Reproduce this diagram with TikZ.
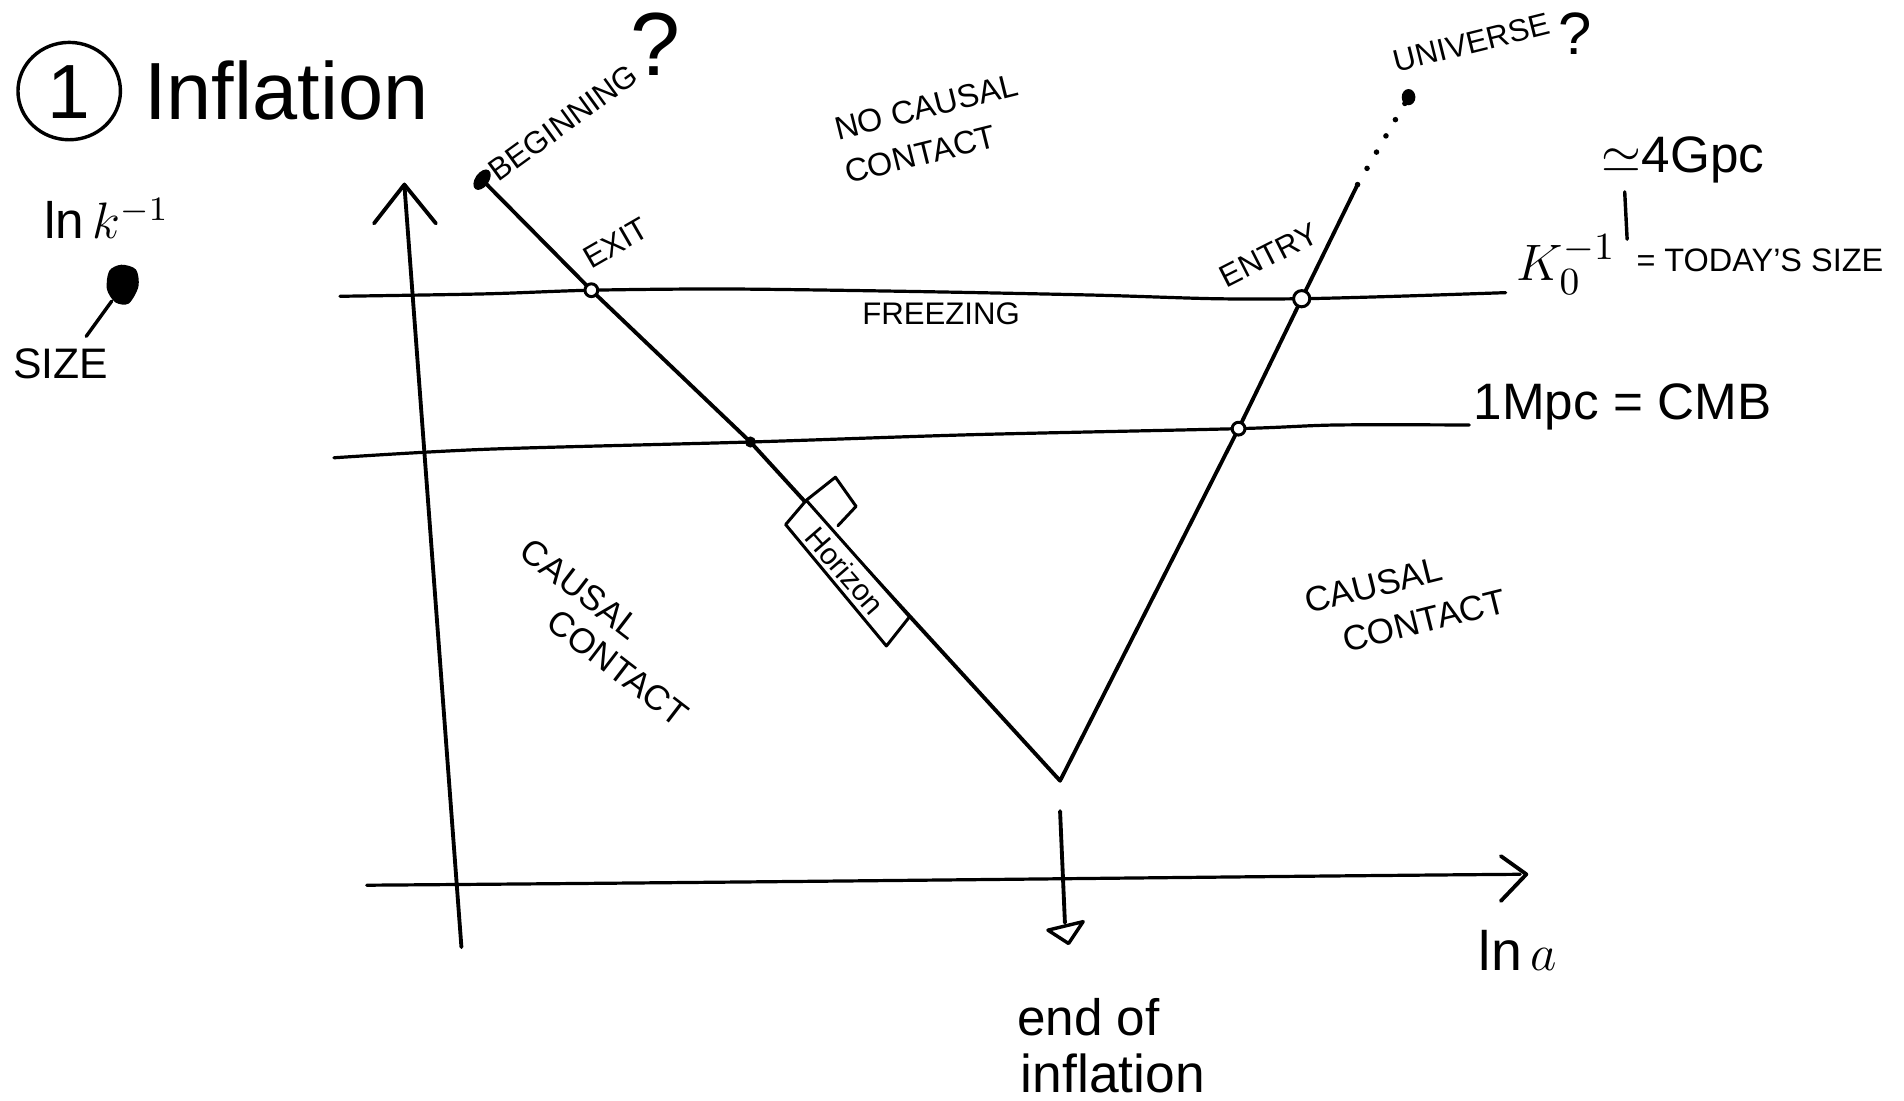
\documentclass[tikz,border=0pt]{standalone}
\usepackage{fontspec}
\setmainfont{Liberation Sans}
\usetikzlibrary{shapes.geometric}
\begin{document}
\begin{tikzpicture}[x=0.01cm,y=-0.01cm,line cap=round,line join=round,
  pen/.style={line width=0.9pt},
  hline/.style={line width=0.75pt},
  lbl/.style={inner sep=0pt,font=\fontsize{7.3}{9}\selectfont},
  midlbl/.style={inner sep=0pt,font=\fontsize{8.2}{10}\selectfont},
  biglbl/.style={inner sep=0pt,font=\fontsize{12}{14}\selectfont},
  opendot/.style={circle,draw,line width=0.7pt,fill=white,inner sep=0pt,minimum size=3pt},
  fulldot/.style={circle,fill,inner sep=0pt,minimum size=2.6pt}]
\useasboundingbox (0,0) rectangle (1568,906);

% coordinates
\coordinate (B0) at (397,148);
\coordinate (Ex) at (487,239);
\coordinate (L2) at (618,364);
\coordinate (V)  at (873,643);
\coordinate (R2) at (1020,353);
\coordinate (En) at (1072,246);
\coordinate (Rt) at (1118,152);
\coordinate (U)  at (1160,80);
\coordinate (Y0) at (380,780);
\coordinate (Y1) at (333,152);
\coordinate (YL) at (308,184);
\coordinate (YR) at (359,184);
\coordinate (X0) at (302,729);
\coordinate (X1) at (1252,720);
\coordinate (XU) at (1236,705);
\coordinate (XD) at (1236,742);
\coordinate (D0) at (873,668);
\coordinate (D1) at (877,760);

% title
\draw[line width=0.8pt] (57,75) ellipse [x radius=12pt, y radius=11.4pt];
\node[inner sep=0pt,font=\fontsize{18}{20}\selectfont] (one) at (57,76) {1};
\node[inner sep=0pt,anchor=base west,font=\fontsize{19}{22}\selectfont] (title) at (118,98) {Inflation};

% y label and size blob
\node[inner sep=0pt,font=\fontsize{12}{14}\selectfont] (ylab) at (88,180) {$\ln k^{-1}$};
\fill plot[smooth cycle] coordinates {(90,223) (100,218) (112,222) (114,236) (106,250) (95,249) (88,238)};
\coordinate (blobend) at (92,248);
\coordinate (sizeend) at (71,277);
\draw[line width=0.8pt] (blobend) -- (sizeend);
\node[inner sep=0pt,font=\fontsize{10}{12}\selectfont] (size) at (50,300) {SIZE};

% axes
\draw[pen] (Y0) -- (Y1);
\draw[pen] (YL) -- (Y1) -- (YR);
\draw[hline] (X0) .. controls (700,726) and (1000,722) .. (X1);
\draw[pen] (XU) -- (1257,720) -- (XD);
\node[inner sep=0pt,font=\fontsize{13}{15}\selectfont] (lna) at (1250,783) {$\ln a$};

% horizontal lines
\draw[hline] plot[smooth] coordinates {(280,244) (400,242) (487,239) (600,238) (750,240) (900,243) (1000,246) (1072,246) (1150,244) (1240,241)};
\draw[hline] plot[smooth] coordinates {(275,377) (400,370) (618,364) (800,358) (1020,353) (1100,350) (1210,350)};

% horizon curve
\draw[pen] (B0) -- (Ex) -- (L2) -- (V) -- (R2) -- (En) -- (Rt);
\draw[line width=1.3pt,dash pattern=on 0pt off 4.4pt] (Rt) -- (U);
\node[fill,ellipse,inner sep=0pt,minimum width=3.2pt,minimum height=5.4pt,rotate=-35] (bdot) at (B0) {};
\node[fill,ellipse,inner sep=0pt,minimum width=3.2pt,minimum height=3.8pt] (udot) at (U) {};

\node[opendot] (exdot) at (Ex) {};
\node[fulldot] (l2dot) at (L2) {};
\node[opendot] (r2dot) at (R2) {};
\node[opendot,minimum size=3.8pt] (endot) at (En) {};

% horizon box
\draw[line width=0.7pt,fill=white] (647,432) -- (730,532) -- (749,508) -- (664,412) -- cycle;
\draw[line width=0.7pt] (664,412) -- (688,393) -- (705,417) -- (690,433);
\node[inner sep=0pt,rotate=-49,font=\fontsize{7}{8}\selectfont] (hor) at (696,470) {Horizon};

% labels
\node[lbl,rotate=36] (beg) at (464,101) {BEGINNING};
\node[inner sep=0pt,font=\fontsize{21}{24}\selectfont] (q1) at (540,36) {?};
\node[lbl,rotate=14] (univ) at (1212,35) {UNIVERSE};
\node[inner sep=0pt,font=\fontsize{14}{16}\selectfont] (q2) at (1297,28) {?};
\node[lbl,rotate=30] (exit) at (507,200) {EXIT};
\node[lbl,rotate=27] (entry) at (1045,210) {ENTRY};
\node[lbl] (freez) at (775,258) {FREEZING};
\node[lbl,font=\fontsize{7.6}{9}\selectfont,rotate=14] (nc1) at (763,88) {NO CAUSAL};
\node[lbl,font=\fontsize{7.6}{9}\selectfont,rotate=14] (nc2) at (758,127) {CONTACT};
\node[midlbl,rotate=-37.5] (cl1) at (478,485) {CAUSAL};
\node[midlbl,rotate=-37.5] (cl2) at (509,550) {CONTACT};
\node[midlbl,rotate=14] (cr1) at (1131,482) {CAUSAL};
\node[midlbl,rotate=14] (cr2) at (1173,511) {CONTACT};

% right side annotations
\node[inner sep=0pt,font=\fontsize{13}{15}\selectfont] (k0) at (1290,218) {$K_0^{-1}$};
\node[inner sep=0pt,anchor=west,font=\fontsize{7.6}{9}\selectfont] (today) at (1347,214) {= TODAY'S SIZE};
\node[biglbl] (gpc) at (1386,132) {$\simeq$4Gpc};
\coordinate (barTop) at (1338,158);
\coordinate (barBot) at (1340,197);
\draw[line width=0.8pt] (barTop) -- (barBot);
\node[biglbl,anchor=west] (mpc) at (1213,335) {1Mpc = CMB};

% end of inflation
\draw[pen] (D0) -- (D1);
\draw[line width=0.8pt] (863,766) -- (892,759) -- (880,777) -- cycle;
\node[inner sep=0pt,anchor=west,font=\fontsize{12}{14}\selectfont] (eo) at (837,838) {end of};
\node[inner sep=0pt,anchor=west,font=\fontsize{12.5}{14}\selectfont] (infl) at (840,884) {inflation};
\end{tikzpicture}
\end{document}
